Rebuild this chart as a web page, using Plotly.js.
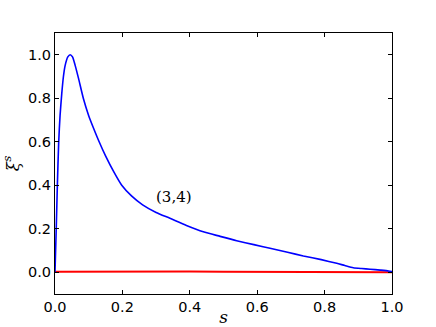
<!DOCTYPE html>
<html>
<head>
<meta charset="utf-8">
<script src="https://cdn.plot.ly/plotly-3.0.1.min.js"></script>
<style>
  html, body { margin: 0; padding: 0; background: #fff; }
  #chart { width: 436px; height: 327px; }
</style>
</head>
<body>
<div id="chart"></div>
<script>
// blue curve (3,4)
var sBlue = [0, 0.004, 0.007, 0.011, 0.015, 0.02, 0.025, 0.03, 0.038, 0.045, 0.052, 0.06, 0.07, 0.084, 0.1, 0.115, 0.131, 0.15, 0.175, 0.198, 0.227, 0.26, 0.3, 0.341, 0.39, 0.44, 0.49, 0.539, 0.59, 0.638, 0.69, 0.737, 0.79, 0.836, 0.86, 0.885, 0.91, 0.935, 0.965, 0.99, 1.0];
var xiBlue = [0, 0.22, 0.4, 0.6, 0.72, 0.82, 0.9, 0.95, 0.99, 1.0, 0.99, 0.95, 0.89, 0.8, 0.72, 0.66, 0.6, 0.535, 0.46, 0.4, 0.351, 0.31, 0.275, 0.248, 0.215, 0.186, 0.165, 0.145, 0.127, 0.11, 0.092, 0.075, 0.058, 0.041, 0.031, 0.021, 0.017, 0.014, 0.01, 0.006, 0.003];

// red curve, flat near zero
var sRed = [0, 0.1, 0.2, 0.3, 0.4, 0.5, 0.6, 0.7, 0.8, 0.9, 1.0];
var xiRed = [0.002, 0.003, 0.003, 0.003, 0.003, 0.002, 0.002, 0.002, 0.001, 0.001, 0.0];

var labelText = '(3,4)';
var labelAt = [0.353, 0.345];

var blue = {
  x: sBlue, y: xiBlue,
  mode: 'lines', type: 'scatter',
  line: {color: '#0000ff', width: 1.6, shape: 'spline', smoothing: 0.6},
  hoverinfo: 'skip'
};
var red = {
  x: sRed, y: xiRed,
  mode: 'lines', type: 'scatter',
  line: {color: '#ff0000', width: 2},
  hoverinfo: 'skip'
};

var axisCommon = {
  showgrid: false,
  zeroline: false,
  showline: true,
  linecolor: '#000',
  linewidth: 1,
  mirror: 'ticks',
  ticks: 'inside',
  ticklen: 4,
  tickwidth: 1,
  tickcolor: '#000',
  tickfont: {family: 'DejaVu Sans', size: 14.5, color: '#000'},
  tickformat: '.1f',
  dtick: 0.2
};

var layout = {
  width: 436, height: 327,
  margin: {l: 55, r: 44, t: 33, b: 33},
  paper_bgcolor: '#fff',
  plot_bgcolor: '#fff',
  showlegend: false,
  xaxis: Object.assign({}, axisCommon, {
    range: [0, 1],
    tick0: 0,
    title: {text: 's', font: {family: 'DejaVu Serif', size: 17, color: '#000', style: 'italic'}, standoff: 1}
  }),
  yaxis: Object.assign({}, axisCommon, {
    range: [-0.1, 1.1],
    tick0: 0,
    title: {text: 'ξ<sup>s</sup>', font: {family: 'DejaVu Serif', size: 17, color: '#000', style: 'italic'}, standoff: 4}
  }),
  annotations: [{
    x: labelAt[0], y: labelAt[1], xref: 'x', yref: 'y',
    text: labelText, showarrow: false,
    font: {family: 'DejaVu Serif', size: 15, color: '#000'}
  }]
};

Plotly.newPlot('chart', [red, blue], layout, {staticPlot: true});
</script>
</body>
</html>
